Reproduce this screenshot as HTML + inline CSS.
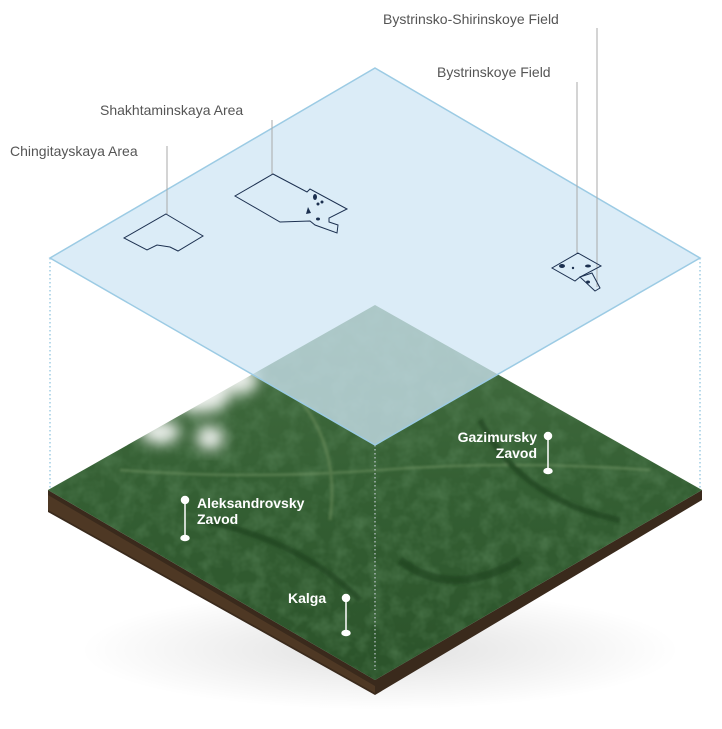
<!DOCTYPE html>
<html><head><meta charset="utf-8"><style>
html,body{margin:0;padding:0;background:#fff;}
svg{display:block;}
.lbl{font-family:"Liberation Sans",sans-serif;font-size:14px;fill:#555;}
.w{font-family:"Liberation Sans",sans-serif;font-size:14px;font-weight:bold;fill:#fff;}
</style></head><body>
<svg width="722" height="729" viewBox="0 0 722 729" xmlns="http://www.w3.org/2000/svg">
<defs>
<linearGradient id="g1" x1="0" y1="0" x2="0" y2="1">
<stop offset="0" stop-color="#456f42"/><stop offset="0.5" stop-color="#345f33"/><stop offset="1" stop-color="#2b532a"/>
</linearGradient>
<radialGradient id="sh" cx="0.5" cy="0.5" r="0.5"><stop offset="0" stop-color="#000" stop-opacity="0.12"/><stop offset="1" stop-color="#000" stop-opacity="0"/></radialGradient>
<filter id="bl"><feGaussianBlur stdDeviation="7"/></filter>
<filter id="bl2"><feGaussianBlur stdDeviation="1.2"/></filter>
<filter id="tx"><feTurbulence type="fractalNoise" baseFrequency="0.06" numOctaves="3" seed="4"/><feColorMatrix values="0 0 0 0 0.08  0 0 0 0 0.2  0 0 0 0 0.08  0 0 0 1.4 -0.55"/></filter>
<clipPath id="tc"><polygon points="375,305 702,490 375,680 48,490"/></clipPath>
</defs>
<ellipse cx="380" cy="650" rx="300" ry="60" fill="url(#sh)"/>
<!-- soil -->
<polygon points="48,490 375,680 702,490 702,500 375,695 48,512" fill="#3a2a1c"/>
<polygon points="48,495 375,686 375,693 48,510" fill="#4e3824"/>
<!-- terrain -->
<polygon points="375,305 702,490 375,680 48,490" fill="url(#g1)"/>
<rect x="40" y="300" width="670" height="390" filter="url(#tx)" clip-path="url(#tc)"/>
<g filter="url(#bl2)" opacity="0.6" clip-path="url(#tc)">
<path d="M120,470 Q250,480 380,470 T650,470" stroke="#7a9c6a" stroke-width="2" fill="none"/>
<path d="M200,520 Q300,540 360,600" stroke="#1e3f1e" stroke-width="6" fill="none"/>
<path d="M480,420 Q520,500 620,520" stroke="#1e3f1e" stroke-width="6" fill="none"/>
<path d="M300,400 Q340,450 330,520" stroke="#6a8c5a" stroke-width="3" fill="none"/>
<path d="M400,560 Q450,600 520,560" stroke="#1e3f1e" stroke-width="8" fill="none"/>
</g>
<!-- clouds -->
<g filter="url(#bl)" fill="#fff" opacity="0.9">
<ellipse cx="150" cy="370" rx="28" ry="22"/>
<ellipse cx="200" cy="395" rx="30" ry="18"/>
<ellipse cx="160" cy="432" rx="20" ry="12"/>
<ellipse cx="210" cy="438" rx="14" ry="12"/>
<ellipse cx="240" cy="380" rx="18" ry="14"/>
</g>
<!-- dotted verticals -->
<g stroke="#6fb3d6" stroke-width="1" stroke-dasharray="1.5,2.5">
<line x1="50" y1="258" x2="50" y2="490"/>
<line x1="700" y1="258" x2="700" y2="490"/>
<line x1="375" y1="445" x2="375" y2="670" stroke="#dde"/>
</g>
<!-- plane -->
<polygon points="375,68 700,258 375,445 50,258" fill="#cfe5f4" fill-opacity="0.75" stroke="#9ccbe4" stroke-width="1.5"/>
<g stroke="#aaa" stroke-width="1">
<line x1="597" y1="28" x2="597" y2="287"/>
<line x1="577" y1="82" x2="577" y2="253"/>
<line x1="272" y1="120" x2="272" y2="174"/>
<line x1="167" y1="146" x2="167" y2="214"/>
</g>
<g fill="none" stroke="#1c3050" stroke-width="1">
<polygon points="166,214 203,236 178,251 170,247 157,245 147,250 124,238"/>
<polygon points="273,174 307,192 310,189 347,209 329,218 329,222 338,225 337,233 315,225 310,221 280,222 235,196"/>
<polygon points="578,253 601,266 580,277 575,281 552,268"/>
<polygon points="580,277 592,273 600,288 595,291"/>
</g>
<g fill="#1c3050">
<ellipse cx="315" cy="197" rx="2" ry="3"/><circle cx="318" cy="204" r="1.5"/><circle cx="322" cy="202" r="1.5"/>
<polygon points="308,207 311,213 306,214"/><ellipse cx="318" cy="219" rx="2" ry="1.5"/>
<ellipse cx="562" cy="266" rx="3" ry="2"/><circle cx="573" cy="268" r="1.2"/><ellipse cx="588" cy="266" rx="3" ry="1.5"/>
<ellipse cx="588" cy="282" rx="2" ry="1.5"/>
</g>
<text class="lbl" x="383" y="24">Bystrinsko-Shirinskoye Field</text>
<text class="lbl" x="437" y="77">Bystrinskoye Field</text>
<text class="lbl" x="100" y="115">Shakhtaminskaya Area</text>
<text class="lbl" x="10" y="156">Chingitayskaya Area</text>
<g stroke="#fff" stroke-width="1.5" fill="#fff">
<line x1="185" y1="502" x2="185" y2="537"/><circle cx="185" cy="500" r="3.5"/><ellipse cx="185" cy="538" rx="4" ry="2.5"/>
<line x1="548" y1="438" x2="548" y2="470"/><circle cx="548" cy="436" r="3.5"/><ellipse cx="548" cy="471" rx="4" ry="2.5"/>
<line x1="346" y1="600" x2="346" y2="632"/><circle cx="346" cy="598" r="3.5"/><ellipse cx="346" cy="633" rx="4" ry="2.5"/>
</g>
<text class="w" x="197" y="508">Aleksandrovsky</text>
<text class="w" x="197" y="524">Zavod</text>
<text class="w" x="537" y="442" text-anchor="end">Gazimursky</text>
<text class="w" x="537" y="458" text-anchor="end">Zavod</text>
<text class="w" x="288" y="603">Kalga</text>
</svg>
</body></html>
